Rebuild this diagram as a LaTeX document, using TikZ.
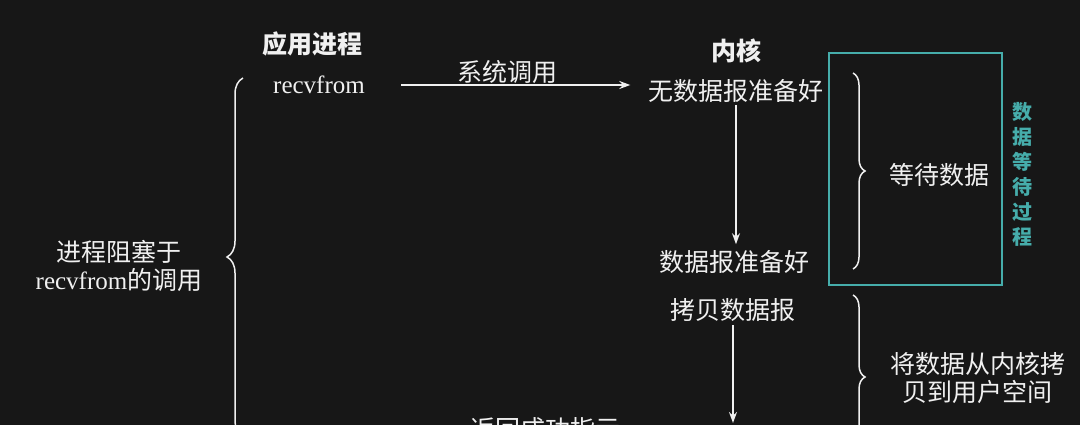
\documentclass[tikz,border=0pt]{standalone}
\usepackage{fontspec}
\setmainfont{Liberation Serif}
\newfontfamily\cjk{Noto Sans CJK SC}
\newfontfamily\lat{Liberation Serif}
\usetikzlibrary{arrows.meta,decorations.pathreplacing}
\definecolor{bg}{HTML}{171717}
\definecolor{fg}{HTML}{F0F0F0}
\definecolor{teal}{HTML}{46ADAB}
\tikzset{
  txt/.style={inner sep=0pt, text=fg, font=\cjk\fontsize{25}{28}\selectfont},
  ttl/.style={txt, font=\cjk\bfseries\fontsize{25}{28}\selectfont},
  lbl/.style={txt, align=center},
  arr/.style={draw=fg, line width=1.6pt, -{Stealth[length=11pt,width=8pt]}},
  brc/.style={draw=fg, line width=1.5pt, decorate, decoration={brace, amplitude=#1}},
}
\begin{document}
\begin{tikzpicture}[x=1pt,y=-1pt]
\useasboundingbox (0,0) rectangle (1080,425);
\fill[bg] (0,0) rectangle (1080,425);
\clip (0,0) rectangle (1080,425);

\node[ttl] (app) at (312,44) {应用进程};
\node[txt, font=\lat\fontsize{25}{28}\selectfont] (recv) at (319,85) {recvfrom};
\node[ttl] (kern) at (736,51) {内核};
\node[txt] (nodata) at (736,91) {无数据报准备好};
\node[txt] (ready) at (734,262) {数据报准备好};
\node[txt] (copy) at (733,310) {拷贝数据报};
\node[txt] (ret) at (545,429) {返回成功指示};
\node[txt] (sys) at (507,72) {系统调用};
\node[txt] (wait) at (939,175) {等待数据};
\node[lbl] (cp) at (977.5,378.5) {将数据从内核拷\\贝到用户空间};
\node[lbl, font=\cjk\fontsize{25}{28}\selectfont] (blk) at (119,266) {进程阻塞于\\{\lat recvfrom}的调用};
\node[lbl, text=teal, font=\cjk\bfseries\fontsize{20}{25}\selectfont] (proc) at (1022,174) {数\\据\\等\\待\\过\\程};

\node[draw=teal, line width=2.5pt, minimum width=173pt, minimum height=232pt, inner sep=0pt] (box) at (915.5,169) {};

\coordinate (end2) at (733,423);
\coordinate (lb1) at (243,436);
\coordinate (lb2) at (243,78);
\coordinate (rb1) at (853,73);
\coordinate (rb2) at (853,269);
\coordinate (rc1) at (853,295);
\coordinate (rc2) at (853,459);

\draw[arr, shorten <=36pt, shorten >=18pt] (recv.east) -- (recv.east -| nodata.west);
\draw[arr, shorten <=2pt, shorten >=6pt] (nodata.south) -- (nodata.south |- ready.north);
\draw[arr, shorten <=3pt] (copy.south) -- (end2);

\draw[brc=16pt] (lb1) -- (lb2);
\draw[brc=12pt] (rb1) -- (rb2);
\draw[brc=12pt] (rc1) -- (rc2);
\end{tikzpicture}
\end{document}
